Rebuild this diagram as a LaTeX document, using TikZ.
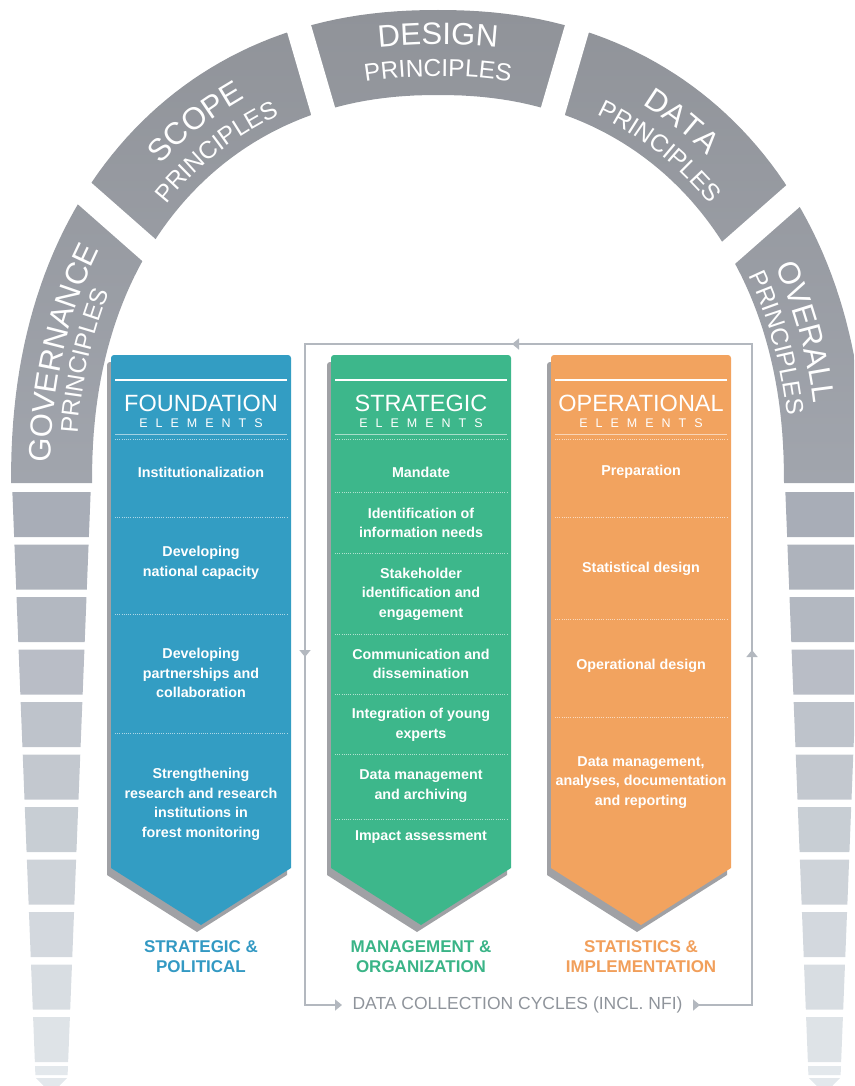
\documentclass[tikz,border=0pt]{standalone}
\usepackage{fontspec}
\setmainfont{Liberation Sans}
\usetikzlibrary{decorations.text,decorations.markings,arrows.meta}

\definecolor{archtop}{HTML}{909399}
\definecolor{archbot}{HTML}{A1A5AD}
\definecolor{pilltop}{HTML}{A8ADB7}
\definecolor{pillbot}{HTML}{E3E8EC}
\definecolor{cblue}{HTML}{339DC3}
\definecolor{cgreen}{HTML}{3DB78B}
\definecolor{corange}{HTML}{F2A35F}
\definecolor{lblue}{HTML}{3399C3}
\definecolor{lgreen}{HTML}{3AB487}
\definecolor{lorange}{HTML}{F19F5B}
\definecolor{shadowgray}{HTML}{A0A1A5}
\definecolor{cycgray}{HTML}{B3B8BF}
\definecolor{cyctext}{HTML}{8F949B}

\newcommand\archbig{\fontsize{31}{31}\selectfont\color{white}}
\newcommand\archsmall{\fontsize{24.5}{25}\selectfont\color{white}}
\newcommand\elems{E\kern8pt L\kern8pt E\kern8pt M\kern8pt E\kern8pt N\kern8pt T\kern8pt S}

\newcommand\archtext[5]{%
  \path[decorate,decoration={text along path,text align=center,text={#5}}]
    plot[domain=#1:#2,samples=50,variable=\t] ({438+#3*sx(\t)},{-483+#4*sy(\t)});}

\newcommand\elcol[2]{%
  \fill[shadowgray] (#1-4,-607) [rounded corners=3pt] -- (#1-4,-362) -- (#1+176,-362) -- (#1+176,-607) [sharp corners] -- (#1+176,-875) -- (#1+86,-932) -- (#1-4,-875) -- cycle;
  \fill[#2] (#1,-600) [rounded corners=3pt] -- (#1,-355) -- (#1+180,-355) -- (#1+180,-600) [sharp corners] -- (#1+180,-868) -- (#1+90,-925) -- (#1,-868) -- cycle;
  \draw[topline] (#1+4,-380) -- (#1+176,-380);
  \draw[sepline] (#1+4,-434) -- (#1+176,-434);
  \draw[sepdot] (#1+4,-439) -- (#1+176,-439);}

\tikzset{
  itemtxt/.style={text=white,font=\fontsize{14.3}{19.5}\selectfont\bfseries,align=center,inner sep=0pt},
  headtxt/.style={text=white,font=\fontsize{23.5}{24}\selectfont,inner sep=0pt,anchor=base},
  subhead/.style={text=white,font=\fontsize{12.5}{13}\selectfont,inner sep=0pt,anchor=base},
  bottxt/.style={font=\fontsize{17}{20}\selectfont\bfseries,align=center,inner sep=0pt},
  sepdot/.style={draw=white,opacity=0.6,line width=0.8pt,dash pattern=on 0.8pt off 1.4pt},
  sepline/.style={draw=white,opacity=0.55,line width=1pt},
  topline/.style={draw=white,line width=2.6pt},
  gapline/.style={draw=white,line width=25pt},
  cycline/.style={draw=cycgray,line width=1.6pt},
  cyctxt/.style={text=cyctext,font=\fontsize{17.5}{18}\selectfont,inner sep=0pt}
}

\begin{document}
\begin{tikzpicture}[x=1pt,y=1pt,
  declare function={
    sx(\t)=cos(\t)*exp(-0.0909*ln(max(abs(cos(\t)),0.0001)));
    sy(\t)=sin(\t)*exp(-0.0909*ln(max(abs(sin(\t)),0.0001)));
  }]
\useasboundingbox (0,0) rectangle (854,-1086);
\clip (0,0) rectangle (854,-1086);

% arch band
\shade[top color=archtop,bottom color=archbot]
  plot[domain=180:0,samples=121,variable=\t] ({438+427*sx(\t)},{-483+473*sy(\t)})
  -- plot[domain=0:180,samples=121,variable=\t] ({438+346*sx(\t)},{-483+388*sy(\t)}) -- cycle;
% gaps between segments
\draw[gapline] (64.5,-175.8) -- (169.5,-268.2);
\draw[gapline] (291,-1) -- (333,-145);
\draw[gapline] (585,-1) -- (543,-145);
\draw[gapline] (811.5,-179.8) -- (706.5,-272.2);

% arch texts
\archtext{180}{146.6}{387.6}{432.2}{|\archbig|GOVERNANCE}
\archtext{180}{146.6}{362}{405}{|\archsmall|PRINCIPLES}
\archtext{143}{108.9}{386}{430.5}{|\archbig|SCOPE}
\archtext{143}{108.9}{357.2}{399.9}{|\archsmall|PRINCIPLES}
\archtext{105.3}{74.7}{393.2}{438.2}{|\archbig|DESIGN}
\archtext{105.3}{74.7}{363.6}{406.7}{|\archsmall|PRINCIPLES}
\archtext{71.1}{37}{386}{430.5}{|\archbig|DATA}
\archtext{71.1}{37}{357.2}{399.9}{|\archsmall|PRINCIPLES}
\archtext{33.4}{5}{379.6}{423.7}{|\archbig|OVERALL}
\archtext{33.4}{5}{352.4}{394.8}{|\archsmall|PRINCIPLES}

% pillars
\foreach \i in {0,...,10}{
  \pgfmathsetmacro\yt{492+52.5*\i}
  \pgfmathsetmacro\yb{\yt+45}
  \pgfmathsetmacro\lt{12+0.0395*(\yt-483)}
  \pgfmathsetmacro\lb{12+0.0395*(\yb-483)}
  \pgfmathsetmacro\rt{91-0.0395*(\yt-483)}
  \pgfmathsetmacro\rb{91-0.0395*(\yb-483)}
  \pgfmathtruncatemacro\p{100-100*\i/11}
  \fill[pilltop!\p!pillbot] (\lt,-\yt) -- (\rt,-\yt) -- (\rb,-\yb) -- (\lb,-\yb) -- cycle;
  \fill[pilltop!\p!pillbot] ({876-\lt},-\yt) -- ({876-\rt},-\yt) -- ({876-\rb},-\yb) -- ({876-\lb},-\yb) -- cycle;
}
\fill[pillbot] (35,-1066) -- (68,-1066) -- (67.6,-1075) -- (35.4,-1075) -- cycle;
\fill[pillbot] (841,-1066) -- (808,-1066) -- (808.4,-1075) -- (840.6,-1075) -- cycle;
\fill[pillbot] (36,-1078) -- (67,-1078) -- (51.5,-1094) -- cycle;
\fill[pillbot] (840,-1078) -- (809,-1078) -- (824.5,-1094) -- cycle;

% data collection cycle
\coordinate (cs) at (693,-1005);
\coordinate (cbr) at (752,-1005);
\coordinate (ctr) at (752,-344);
\coordinate (ctl) at (305,-344);
\coordinate (cbl) at (305,-1005);
\coordinate (ce) at (342,-1005);
\draw[cycline,-{Triangle[width=11pt,length=7pt]},postaction={decorate},
  decoration={markings,
    mark=at position 7pt with {\arrow{Triangle[width=11pt,length=7pt]}},
    mark=at position 414pt with {\arrow{Triangle[width=11pt,length=7pt]}},
    mark=at position 960pt with {\arrow{Triangle[width=11pt,length=7pt]}},
    mark=at position 1480pt with {\arrow{Triangle[width=11pt,length=7pt]}}}]
  (cs) -- (cbr) -- (ctr) -- (ctl) -- (cbl) -- (ce);
\node[cyctxt] (cyc) at (517.5,-1005) {DATA COLLECTION CYCLES (INCL. NFI)};

% columns
\elcol{111}{cblue}
\elcol{331}{cgreen}
\elcol{551}{corange}

% foundation
\node[headtxt] (fhead) at (201,-411) {FOUNDATION};
\node[subhead] (fsub) at (201,-427) {\elems};
\foreach \y in {517,614,733} \draw[sepdot] (115,-\y) -- (287,-\y);
\node[itemtxt] (f1) at (201,-472) {Institutionalization};
\node[itemtxt] (f2) at (201,-563) {Developing\\national capacity};
\node[itemtxt] (f3) at (201,-673) {Developing\\partnerships and\\collaboration};
\node[itemtxt] (f4) at (201,-804.5) {Strengthening\\research and research\\institutions in\\forest monitoring};

% strategic
\node[headtxt] (shead) at (421,-411) {STRATEGIC};
\node[subhead] (ssub) at (421,-427) {\elems};
\foreach \y in {492,553,634,694,754,819} \draw[sepdot] (335,-\y) -- (507,-\y);
\node[itemtxt] (s1) at (421,-472) {Mandate};
\node[itemtxt] (s2) at (421,-523) {Identification of\\information needs};
\node[itemtxt] (s3) at (421,-594) {Stakeholder\\identification and\\engagement};
\node[itemtxt] (s4) at (421,-664) {Communication and\\dissemination};
\node[itemtxt] (s5) at (421,-725) {Integration of young\\experts};
\node[itemtxt] (s6) at (421,-786) {Data management\\and archiving};
\node[itemtxt] (s7) at (421,-837) {Impact assessment};

% operational
\node[headtxt] (ohead) at (641,-411) {OPERATIONAL};
\node[subhead] (osub) at (641,-427) {\elems};
\foreach \y in {517,619,717} \draw[sepdot] (555,-\y) -- (727,-\y);
\node[itemtxt] (o1) at (641,-472) {Preparation};
\node[itemtxt] (o2) at (641,-569) {Statistical design};
\node[itemtxt] (o3) at (641,-666) {Operational design};
\node[itemtxt] (o4) at (641,-782.5) {Data management,\\analyses, documentation\\and reporting};

% bottom labels
\node[bottxt,text=lblue] (lb1) at (201,-957) {STRATEGIC \&\\POLITICAL};
\node[bottxt,text=lgreen] (lb2) at (421,-957) {MANAGEMENT \&\\ORGANIZATION};
\node[bottxt,text=lorange] (lb3) at (641,-957) {STATISTICS \&\\IMPLEMENTATION};
\end{tikzpicture}
\end{document}
